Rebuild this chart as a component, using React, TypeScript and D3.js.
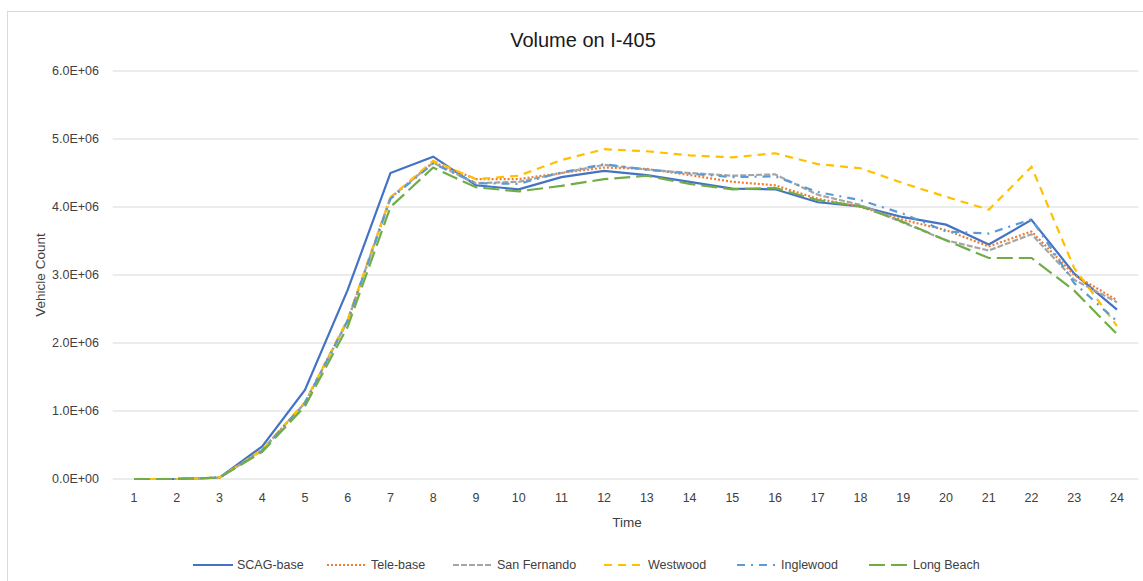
import * as d3 from "d3";

const hours = d3.range(1, 25);
const scagBase = [0, 0, 0.02, 0.48, 1.31, 2.78, 4.5, 4.74, 4.32, 4.26, 4.44, 4.53, 4.47, 4.37, 4.27, 4.26, 4.07, 4.01, 3.85, 3.74, 3.45, 3.81, 3.02, 2.49];
const teleBase = [0, 0, 0.02, 0.43, 1.12, 2.33, 4.13, 4.66, 4.41, 4.41, 4.5, 4.58, 4.56, 4.47, 4.37, 4.32, 4.12, 4.0, 3.81, 3.66, 3.42, 3.64, 3.0, 2.63];
const sanFernando = [0, 0, 0.02, 0.42, 1.12, 2.33, 4.14, 4.65, 4.35, 4.37, 4.5, 4.62, 4.55, 4.5, 4.46, 4.48, 4.18, 4.03, 3.77, 3.51, 3.36, 3.6, 2.93, 2.6];
const westwood = [0, 0, 0.02, 0.43, 1.13, 2.35, 4.14, 4.68, 4.41, 4.46, 4.69, 4.85, 4.82, 4.76, 4.73, 4.79, 4.63, 4.57, 4.35, 4.15, 3.96, 4.59, 3.1, 2.25];
const inglewood = [0, 0, 0.02, 0.42, 1.12, 2.33, 4.12, 4.64, 4.35, 4.34, 4.51, 4.63, 4.55, 4.49, 4.44, 4.45, 4.22, 4.1, 3.9, 3.64, 3.61, 3.82, 2.88, 2.32];
const longBeach = [0, 0, 0.02, 0.4, 1.07, 2.24, 4.0, 4.58, 4.29, 4.23, 4.31, 4.41, 4.46, 4.34, 4.26, 4.28, 4.1, 4.01, 3.78, 3.51, 3.25, 3.25, 2.77, 2.13];
const yTicks = [0, 1e6, 2e6, 3e6, 4e6, 5e6, 6e6];

const series = [
  { name: "SCAG-base", values: scagBase, color: "#4472C4", dash: "none", legendX: 193 },
  { name: "Tele-base", values: teleBase, color: "#ED7D31", dash: "2 2", legendX: 327 },
  { name: "San Fernando", values: sanFernando, color: "#A5A5A5", dash: "6 2", legendX: 453 },
  { name: "Westwood", values: westwood, color: "#FFC000", dash: "8 6", legendX: 604 },
  { name: "Inglewood", values: inglewood, color: "#5B9BD5", dash: "8 6 2 6", legendX: 737 },
  { name: "Long Beach", values: longBeach, color: "#70AD47", dash: "16 6", legendX: 869 },
];

const W = 1143;
const H = 581;
const font = "'Liberation Sans', Arial, sans-serif";

export default function App() {
  const x = d3.scalePoint<number>().domain(hours).range([134, 1117]);
  const y = d3.scaleLinear().domain([0, 6e6]).range([479, 71]);
  const step = x.step();
  const left = x(1)! - step / 2;
  const right = x(24)! + step / 2;

  const line = d3
    .line<number>()
    .x((_, i) => x(hours[i])!)
    .y((d) => y(d * 1e6));

  return (
    <svg width={W} height={H} style={{ position: "absolute", left: 0, top: 0, background: "#fff" }} fontFamily={font}>
      <rect x={7.5} y={11.5} width={W} height={H} fill="#fff" stroke="#D9D9D9" />
      <text x={583} y={47} textAnchor="middle" fontSize={20} fill="#1a1a1a">
        Volume on I-405
      </text>
      {yTicks.map((t) => (
        <g key={t}>
          <line x1={left} x2={right} y1={y(t)} y2={y(t)} stroke="#D9D9D9" strokeWidth={1} />
          <text x={99} y={y(t)} dy="0.35em" textAnchor="end" fontSize={12.5} fill="#404040">
            {d3.format(".1e")(t).replace("e", "E").replace(/E([+-])(\d)$/, "E$10$2")}
          </text>
        </g>
      ))}
      {hours.map((h) => (
        <text key={h} x={x(h)} y={498} dy="0.35em" textAnchor="middle" fontSize={12.5} fill="#404040">
          {h}
        </text>
      ))}
      <text x={627} y={522} dy="0.35em" textAnchor="middle" fontSize={13.5} fill="#404040">
        Time
      </text>
      <text transform={`translate(40,275) rotate(-90)`} dy="0.35em" textAnchor="middle" fontSize={13.5} fill="#404040">
        Vehicle Count
      </text>
      {series.map((s) => (
        <path key={s.name} d={line(s.values)!} fill="none" stroke={s.color} strokeWidth={2.2} strokeDasharray={s.dash} />
      ))}
      {series.map((s) => (
        <g key={s.name}>
          <line x1={s.legendX} x2={s.legendX + 40} y1={565} y2={565} stroke={s.color} strokeWidth={2.2} strokeDasharray={s.dash} />
          <text x={s.legendX + 44} y={565} dy="0.35em" fontSize={12.5} fill="#404040">
            {s.name}
          </text>
        </g>
      ))}
    </svg>
  );
}
